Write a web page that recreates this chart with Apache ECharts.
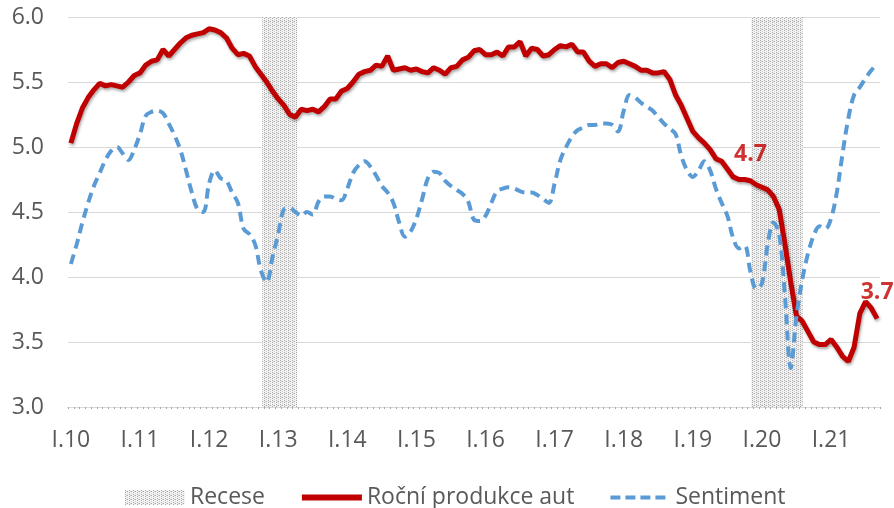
<!DOCTYPE html>
<html>
<head>
<meta charset="utf-8">
<script src="https://cdn.jsdelivr.net/npm/echarts@6/dist/echarts.min.js"></script>
<style>
  html, body { margin: 0; padding: 0; background: #fff; }
  #chart { width: 894px; height: 508px; }
</style>
</head>
<body>
<div id="chart"></div>
<script>
// měsíce I.10 .. IX.21
const romans = ['I', 'II', 'III', 'IV', 'V', 'VI', 'VII', 'VIII', 'IX', 'X', 'XI', 'XII'];
const years = ['10', '11', '12', '13', '14', '15', '16', '17', '18', '19', '20', '21'];
const months = [];
years.forEach(y => romans.forEach(r => months.push(r + '.' + y)));
months.length = 141;

// roční produkce aut (mil.)
const production = [
  5.03, 5.18, 5.30, 5.38, 5.44, 5.49, 5.47, 5.48, 5.47, 5.46, 5.50, 5.55,
  5.57, 5.63, 5.66, 5.67, 5.75, 5.70, 5.75, 5.80, 5.84, 5.86, 5.87, 5.88,
  5.91, 5.90, 5.88, 5.84, 5.76, 5.71, 5.72, 5.70, 5.62, 5.56, 5.50, 5.43,
  5.37, 5.32, 5.25, 5.23, 5.29, 5.28, 5.29, 5.27, 5.31, 5.37, 5.37, 5.43,
  5.45, 5.50, 5.56, 5.58, 5.59, 5.63, 5.62, 5.70, 5.59, 5.60, 5.61, 5.59,
  5.60, 5.58, 5.57, 5.61, 5.59, 5.56, 5.61, 5.62, 5.67, 5.69, 5.74, 5.75,
  5.71, 5.71, 5.73, 5.70, 5.77, 5.77, 5.81, 5.70, 5.76, 5.75, 5.70, 5.71,
  5.75, 5.78, 5.77, 5.79, 5.73, 5.73, 5.66, 5.62, 5.64, 5.64, 5.61, 5.65,
  5.66, 5.64, 5.62, 5.59, 5.59, 5.57, 5.57, 5.58, 5.52, 5.40, 5.32, 5.22,
  5.12, 5.07, 5.03, 4.98, 4.91, 4.89, 4.83, 4.77, 4.75, 4.75, 4.74, 4.71,
  4.69, 4.67, 4.62, 4.52, 4.25, 3.96, 3.70, 3.66, 3.58, 3.50, 3.48, 3.48,
  3.52, 3.46, 3.39, 3.35, 3.46, 3.72, 3.81, 3.76, 3.68
];

// sentiment
const sentiment = [
  4.10, 4.25, 4.42, 4.57, 4.70, 4.80, 4.90, 4.97, 5.00, 4.95, 4.90, 4.98,
  5.10, 5.24, 5.27, 5.28, 5.26, 5.18, 5.09, 4.98, 4.82, 4.65, 4.52, 4.50,
  4.72, 4.82, 4.76, 4.74, 4.65, 4.57, 4.37, 4.33, 4.25, 4.05, 3.96, 4.15,
  4.33, 4.52, 4.53, 4.50, 4.47, 4.50, 4.48, 4.58, 4.62, 4.62, 4.60, 4.59,
  4.68, 4.80, 4.86, 4.89, 4.85, 4.78, 4.70, 4.65, 4.57, 4.42, 4.31, 4.35,
  4.45, 4.60, 4.76, 4.81, 4.80, 4.74, 4.70, 4.67, 4.64, 4.58, 4.44, 4.43,
  4.47, 4.57, 4.66, 4.68, 4.69, 4.68, 4.66, 4.65, 4.65, 4.63, 4.60, 4.57,
  4.72, 4.90, 5.00, 5.08, 5.13, 5.15, 5.17, 5.17, 5.18, 5.18, 5.17, 5.12,
  5.28, 5.40, 5.38, 5.34, 5.31, 5.28, 5.23, 5.18, 5.14, 5.10, 4.93, 4.82,
  4.77, 4.82, 4.89, 4.82, 4.68, 4.57, 4.47, 4.30, 4.22, 4.24, 4.04, 3.91,
  3.95, 4.25, 4.42, 4.33, 3.85, 3.30, 3.70, 3.98, 4.18, 4.32, 4.39, 4.37,
  4.45, 4.65, 4.95, 5.22, 5.40, 5.46, 5.53, 5.59, 5.64
];

// recese (v měsících od I.10)
const recessions = [[33.7, 39.8], [118.6, 127.6]];

// body s popiskem
const labelled = [118, 140];

// šrafování pro recese
const makePattern = () => {
  const c = document.createElement('canvas');
  c.width = 4;
  c.height = 4;
  const ctx = c.getContext('2d');
  ctx.fillStyle = '#f3f3f3';
  ctx.fillRect(0, 0, 4, 4);
  ctx.fillStyle = '#a8a8a8';
  ctx.fillRect(0, 0, 1, 1);
  ctx.fillRect(0, 2, 1, 1);
  ctx.fillRect(2, 1, 1, 1);
  ctx.fillStyle = '#d0d0d0';
  ctx.fillRect(2, 3, 1, 1);
  ctx.fillRect(1, 1, 1, 1);
  return { image: c, repeat: 'repeat' };
};
const pattern = makePattern();

const chart = echarts.init(document.getElementById('chart'));

const option = {
  animation: false,
  textStyle: { fontFamily: 'Open Sans' },
  grid: { left: 68, right: 14, top: 17, bottom: 101 },
  legend: {
    left: 120,
    top: 481,
    itemWidth: 60,
    itemHeight: 15,
    itemGap: 34,
    textStyle: { color: '#595959', fontSize: 23, fontFamily: 'Open Sans' },
    data: [
      { name: 'Recese', icon: 'rect', itemStyle: { color: pattern } },
      { name: 'Roční produkce aut', itemStyle: { opacity: 0 }, lineStyle: { width: 6, shadowBlur: 0, shadowOffsetX: 0, shadowOffsetY: 0 } },
      { name: 'Sentiment', itemStyle: { opacity: 0 }, lineStyle: { width: 4, type: [10, 5] } }
    ]
  },
  xAxis: [
    {
      type: 'category',
      data: months,
      boundaryGap: true,
      axisLine: { lineStyle: { color: '#d9d9d9', width: 1 } },
      axisTick: { show: true, interval: 0, length: 2, lineStyle: { color: '#a6a6a6' } },
      axisLabel: {
        interval: (i) => i % 12 === 0,
        color: '#595959',
        fontSize: 23,
        margin: 22
      },
      splitLine: { show: false }
    },
    {
      type: 'value',
      min: 0,
      max: 141,
      show: false
    }
  ],
  yAxis: {
    type: 'value',
    min: 3,
    max: 6,
    interval: 0.5,
    axisLine: { show: false },
    axisTick: { show: false },
    axisLabel: {
      color: '#595959',
      fontSize: 23,
      margin: 24,
      formatter: (v) => v.toFixed(1)
    },
    splitLine: { lineStyle: { color: '#d9d9d9', width: 1.2 } }
  },
  series: [
    {
      name: 'Recese',
      type: 'line',
      xAxisIndex: 1,
      data: [],
      itemStyle: { color: pattern },
      markArea: {
        silent: true,
        itemStyle: { color: pattern },
        data: recessions.map(r => [{ xAxis: r[0] }, { xAxis: r[1] }])
      }
    },
    {
      name: 'Roční produkce aut',
      type: 'line',
      data: production,
      symbol: 'none',
      z: 3,
      itemStyle: { color: '#c00000' },
      lineStyle: {
        color: '#c00000',
        width: 5,
        shadowColor: 'rgba(0,0,0,0.35)',
        shadowBlur: 3,
        shadowOffsetX: 1,
        shadowOffsetY: 2
      }
    },
    {
      name: 'Sentiment',
      type: 'line',
      data: sentiment,
      symbol: 'none',
      smooth: 0.35,
      z: 4,
      itemStyle: { color: '#5b9bd5' },
      lineStyle: { color: '#5b9bd5', width: 4, type: [10, 6] }
    },
    {
      name: 'popisky',
      type: 'scatter',
      symbolSize: 1,
      itemStyle: { color: 'rgba(0,0,0,0)' },
      z: 5,
      data: labelled.map(i => [i, production[i]]),
      label: {
        show: true,
        position: 'top',
        distance: 14,
        color: '#c00000',
        fontWeight: 'bold',
        fontSize: 23,
        fontFamily: 'Open Sans',
        formatter: (p) => p.value[1].toFixed(1)
      }
    }
  ]
};

chart.setOption(option);
</script>
</body>
</html>
